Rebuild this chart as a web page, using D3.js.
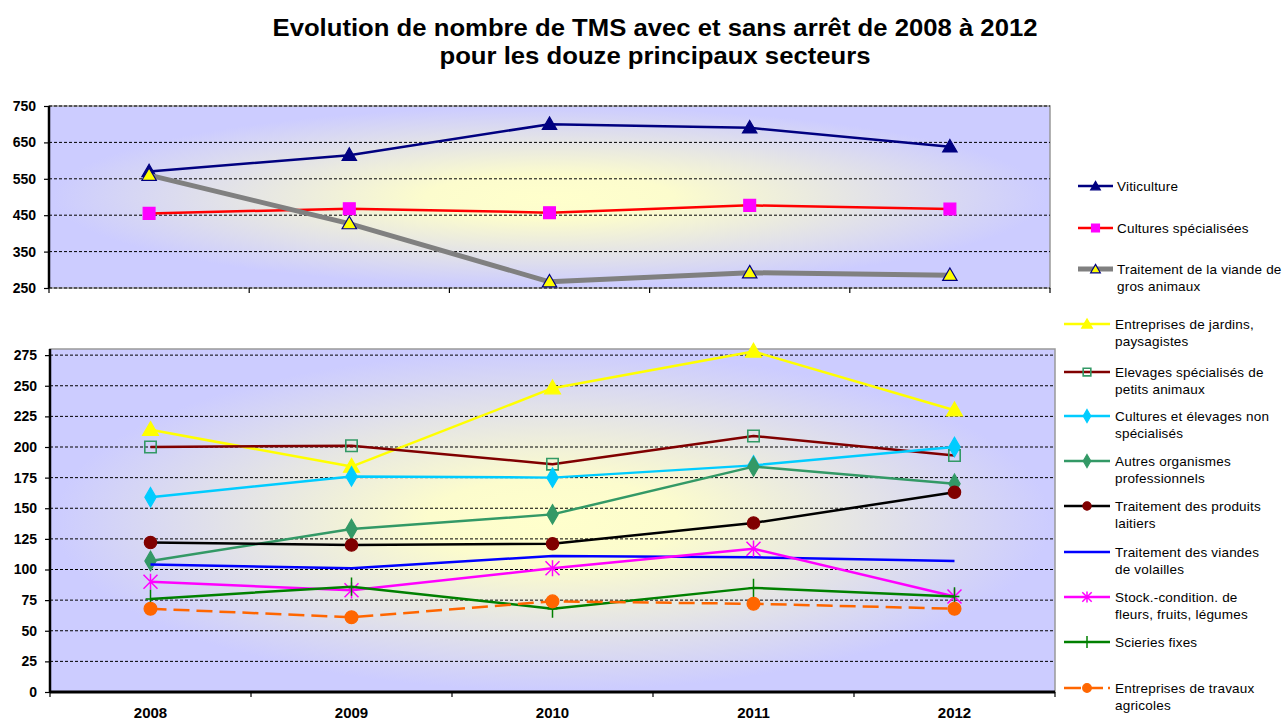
<!DOCTYPE html>
<html>
<head>
<meta charset="utf-8">
<script src="https://cdn.jsdelivr.net/npm/d3@7"></script>
<style>
  body { margin: 0; background: #fff; }
  svg { display: block; font-family: Arial, "Liberation Sans", sans-serif; }
</style>
</head>
<body>
<svg id="chart" width="1287" height="721"></svg>
<script>
// values
var years = ["2008", "2009", "2010", "2011", "2012"];

var viticulture   = [570, 615, 700, 690, 638];
var culturesSpec  = [455, 468, 457, 477, 467];
var viandeGros    = [560, 427, 267, 292, 285];

var jardins       = [214, 184, 248, 278, 230];
var petitsAnimaux = [200, 201, 186, 209, 193];
var nonSpec       = [159, 176, 175, 185, 200];
var autresOrg     = [107, 133, 145, 184, 170];
var laitiers      = [122, 120, 121, 138, 163];
var volailles     = [104, 101, 111, 110, 107];
var stockFleurs   = [90, 83, 101, 117, 78];
var scieries      = [76, 86, 68, 85, 78];
var travauxAgri   = [68, 61, 74, 72, 68];

var topTicks    = [250, 350, 450, 550, 650, 750];
var bottomTicks = [0, 25, 50, 75, 100, 125, 150, 175, 200, 225, 250, 275];

// series tables (style lives here, not in the value arrays)
var topSeries = [
  { name: ["Viticulture"], values: viticulture, stroke: "#000080", width: 2.5,
    marker: "triangle", fill: "#000080", mstroke: "#000080", size: 90 },
  { name: ["Cultures spécialisées"], values: culturesSpec, stroke: "#ff0000", width: 2.5,
    marker: "square", fill: "#ff00ff", mstroke: "#ff00ff", size: 140 },
  { name: ["Traitement de la viande de", "gros animaux"], values: viandeGros, stroke: "#808080", width: 5,
    marker: "triangle", fill: "#ffff00", mstroke: "#000080", size: 90 }
];

var bottomSeries = [
  { name: ["Entreprises de jardins,", "paysagistes"], values: jardins, stroke: "#ffff00", width: 2.5,
    marker: "triangle", fill: "#ffff00", mstroke: "#ffff00", size: 110 },
  { name: ["Elevages spécialisés de", "petits animaux"], values: petitsAnimaux, stroke: "#800000", width: 2.5,
    marker: "opensquare", fill: "none", mstroke: "#339966", size: 130 },
  { name: ["Cultures et élevages non", "spécialisés"], values: nonSpec, stroke: "#00ccff", width: 2.5,
    marker: "diamond", fill: "#00ccff", mstroke: "#00ccff", size: 110 },
  { name: ["Autres organismes", "professionnels"], values: autresOrg, stroke: "#339966", width: 2.5,
    marker: "diamond", fill: "#339966", mstroke: "#339966", size: 110 },
  { name: ["Traitement des produits", "laitiers"], values: laitiers, stroke: "#000000", width: 2.5,
    marker: "circle", fill: "#800000", mstroke: "#800000", size: 120 },
  { name: ["Traitement des viandes", "de volailles"], values: volailles, stroke: "#0000ff", width: 2.5,
    marker: "none" },
  { name: ["Stock.-condition. de", "fleurs, fruits, légumes"], values: stockFleurs, stroke: "#ff00ff", width: 2.5,
    marker: "star", fill: "none", mstroke: "#ff00ff", size: 7 },
  { name: ["Scieries fixes"], values: scieries, stroke: "#008000", width: 2.5,
    marker: "plus", fill: "none", mstroke: "#008000", size: 7 },
  { name: ["Entreprises de travaux", "agricoles"], values: travauxAgri, stroke: "#ff6600", width: 2.5, dash: "16,7",
    marker: "circle", fill: "#ff6600", mstroke: "#ff6600", size: 130 }
];

var svg = d3.select("#chart");
var defs = svg.append("defs");

var grad = defs.append("radialGradient")
    .attr("id", "bg")
    .attr("cx", 0.5).attr("cy", 0.5).attr("r", 0.62);
grad.append("stop").attr("offset", 0).attr("stop-color", "#ffffcc");
grad.append("stop").attr("offset", 0.2).attr("stop-color", "#fcfccd");
grad.append("stop").attr("offset", 0.8).attr("stop-color", "#ccccff");
grad.append("stop").attr("offset", 1).attr("stop-color", "#ccccff");

// title
svg.append("text")
    .attr("x", 655).attr("y", 36)
    .attr("text-anchor", "middle")
    .attr("textLength", 765).attr("lengthAdjust", "spacingAndGlyphs")
    .style("font-size", "23px").style("font-weight", "bold")
    .text("Evolution de nombre de TMS avec et sans arrêt de 2008 à 2012");
svg.append("text")
    .attr("x", 655).attr("y", 64)
    .attr("text-anchor", "middle")
    .attr("textLength", 431).attr("lengthAdjust", "spacingAndGlyphs")
    .style("font-size", "23px").style("font-weight", "bold")
    .text("pour les douze principaux secteurs");

function markerPath(type, size) {
  if (type === "star") {
    var s = size;
    return "M" + (-s) + "," + (-s) + "L" + s + "," + s +
           "M" + (-s) + "," + s + "L" + s + "," + (-s) +
           "M0," + (-s * 1.15) + "L0," + (s * 1.15);
  }
  if (type === "plus") {
    var p = size;
    return "M0," + (-p * 1.3) + "L0," + (p * 1.3) + "M" + (-p * 0.7) + ",0L" + (p * 0.7) + ",0";
  }
  var sym = { triangle: d3.symbolTriangle, square: d3.symbolSquare, opensquare: d3.symbolSquare,
              diamond: d3.symbolDiamond, circle: d3.symbolCircle }[type];
  return d3.symbol().type(sym).size(size)();
}

function drawMarker(g, s, x, y, scale) {
  if (s.marker === "none") return;
  var sz = s.size * (s.marker === "star" || s.marker === "plus" ? Math.sqrt(scale) : scale);
  var dy = s.marker === "triangle" ? 1 : 0;
  g.append("path")
      .attr("transform", "translate(" + x + "," + (y + dy) + ")")
      .attr("d", markerPath(s.marker, sz))
      .attr("fill", s.fill)
      .attr("stroke", s.mstroke)
      .attr("stroke-width", s.marker === "opensquare" ? 1.6 : (s.marker === "star" || s.marker === "plus" ? 1.5 : 1.2));
}

function panel(opts) {
  var x = d3.scaleBand().domain(years).range([opts.left, opts.right]);
  var y = d3.scaleLinear().domain(opts.domain).range([opts.bottom, opts.top]);
  var g = svg.append("g");

  g.append("rect")
      .attr("x", opts.left).attr("y", opts.top)
      .attr("width", opts.right - opts.left)
      .attr("height", opts.bottom - opts.top)
      .attr("fill", "url(#bg)")
      .attr("stroke", "#999999").attr("stroke-width", 1.5);

  // dashed gridlines
  g.selectAll(".grid").data(opts.ticks.filter(function(t) { return t > opts.domain[0]; }))
    .enter().append("line")
      .attr("x1", opts.left).attr("x2", opts.right)
      .attr("y1", function(d) { return y(d); }).attr("y2", function(d) { return y(d); })
      .attr("stroke", "#000").attr("stroke-width", 1)
      .attr("stroke-dasharray", "3,2");

  // y axis
  var yAxis = d3.axisLeft(y).tickValues(opts.ticks).tickSize(5).tickPadding(8);
  var ya = g.append("g").attr("transform", "translate(" + opts.left + ",0)").call(yAxis);
  ya.select(".domain").attr("stroke", "#000").attr("stroke-width", 2.5)
      .attr("d", "M0," + opts.top + "V" + opts.bottom);
  ya.selectAll(".tick line").attr("stroke", "#000").attr("stroke-width", 1.2);
  ya.selectAll(".tick text").style("font-size", "14px").style("font-weight", "bold").attr("fill", "#000");

  // x axis (category boundaries as ticks)
  var bounds = years.map(function(d) { return x(d); }).concat([opts.right]);
  var xa = g.append("g");
  xa.append("line")
      .attr("x1", opts.left).attr("x2", opts.right)
      .attr("y1", opts.bottom).attr("y2", opts.bottom)
      .attr("stroke", "#000").attr("stroke-width", opts.xAxisWidth)
      .attr("stroke-dasharray", opts.xAxisDash || null);
  xa.selectAll(".xt").data(bounds).enter().append("line")
      .attr("x1", function(d) { return d; }).attr("x2", function(d) { return d; })
      .attr("y1", opts.bottom).attr("y2", opts.bottom + 5)
      .attr("stroke", "#000").attr("stroke-width", 1.2);
  if (opts.labels) {
    xa.selectAll(".xl").data(years).enter().append("text")
        .attr("x", function(d) { return x(d) + x.bandwidth() / 2; })
        .attr("y", opts.bottom + 26)
        .attr("text-anchor", "middle")
        .style("font-size", "15px").style("font-weight", "bold")
        .text(function(d) { return d; });
  }

  var line = d3.line()
      .x(function(d, i) { return x(years[i]) + x.bandwidth() / 2; })
      .y(function(d) { return y(d); });

  opts.series.forEach(function(s) {
    g.append("path")
        .attr("d", line(s.values))
        .attr("fill", "none")
        .attr("stroke", s.stroke)
        .attr("stroke-width", s.width)
        .attr("stroke-linejoin", "round")
        .attr("stroke-dasharray", s.dash || null);
    s.values.forEach(function(v, i) {
      drawMarker(g, s, x(years[i]) + x.bandwidth() / 2, y(v), 1);
    });
  });
}

panel({ left: 49, right: 1050, top: 106, bottom: 288, domain: [250, 750], ticks: topTicks,
        series: topSeries, xAxisWidth: 1, xAxisDash: "3,2", labels: false });
panel({ left: 50, right: 1055, top: 349, bottom: 692, domain: [0, 280], ticks: bottomTicks,
        series: bottomSeries, xAxisWidth: 3, labels: true });

// legend
var legendRows = [
  { s: topSeries[0], y: 186, x1: 1078, x2: 1113, tx: 1117 },
  { s: topSeries[1], y: 228, x1: 1078, x2: 1113, tx: 1117 },
  { s: topSeries[2], y: 269, x1: 1078, x2: 1113, tx: 1117 },
  { s: bottomSeries[0], y: 324, x1: 1064, x2: 1110, tx: 1115 },
  { s: bottomSeries[1], y: 372, x1: 1064, x2: 1110, tx: 1115 },
  { s: bottomSeries[2], y: 416, x1: 1064, x2: 1110, tx: 1115 },
  { s: bottomSeries[3], y: 461, x1: 1064, x2: 1110, tx: 1115 },
  { s: bottomSeries[4], y: 506, x1: 1064, x2: 1110, tx: 1115 },
  { s: bottomSeries[5], y: 552, x1: 1064, x2: 1110, tx: 1115 },
  { s: bottomSeries[6], y: 597, x1: 1064, x2: 1110, tx: 1115 },
  { s: bottomSeries[7], y: 642, x1: 1064, x2: 1110, tx: 1115 },
  { s: bottomSeries[8], y: 688, x1: 1064, x2: 1110, tx: 1115 }
];

var lg = svg.append("g");
legendRows.forEach(function(r) {
  lg.append("line")
      .attr("x1", r.x1).attr("x2", r.x2).attr("y1", r.y).attr("y2", r.y)
      .attr("stroke", r.s.stroke).attr("stroke-width", r.s.width)
      .attr("stroke-dasharray", r.s.dash ? "17,5" : null);
  drawMarker(lg, r.s, (r.x1 + r.x2) / 2, r.y, 0.45);
  var t = lg.append("text")
      .attr("x", r.tx).attr("y", r.y + 4.5)
      .style("font-size", "13.5px").style("letter-spacing", "0.2px").attr("fill", "#000");
  r.s.name.forEach(function(n, i) {
    t.append("tspan").attr("x", r.tx).attr("dy", i === 0 ? 0 : 17).text(n);
  });
});
</script>
</body>
</html>
